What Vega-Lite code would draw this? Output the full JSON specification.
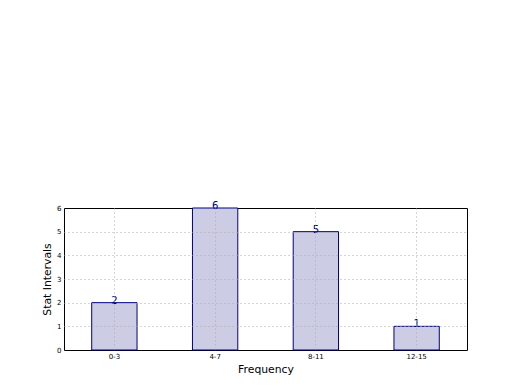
{
  "$schema": "https://vega.github.io/schema/vega-lite/v6.json",
  "width": 403,
  "height": 142,
  "autosize": {"type": "none"},
  "padding": {"left": 64, "top": 208, "right": 53, "bottom": 40},
  "background": "white",
  "config": {
    "font": "DejaVu Sans",
    "view": {"stroke": "black", "strokeWidth": 1}
  },
  "data": {
    "values": [
      {"interval": "0-3", "count": 2},
      {"interval": "4-7", "count": 6},
      {"interval": "8-11", "count": 5},
      {"interval": "12-15", "count": 1}
    ]
  },
  "encoding": {
    "x": {
      "field": "interval",
      "type": "nominal",
      "sort": null,
      "scale": {"paddingInner": 0.55, "paddingOuter": 0.275},
      "axis": {
        "title": "Frequency",
        "titleFontSize": 10.8,
        "titleFontWeight": "normal",
        "titleColor": "black",
        "titlePadding": 4,
        "labelAngle": 0,
        "labelFontSize": 7,
        "labelColor": "black",
        "labelPadding": 2,
        "grid": true,
        "gridDash": [1, 3],
        "gridColor": "#aaaaaa",
        "gridWidth": 1,
        "domain": false,
        "ticks": false,
        "zindex": 1
      }
    },
    "y": {
      "field": "count",
      "type": "quantitative",
      "scale": {"domain": [0, 6], "nice": false},
      "axis": {
        "title": "Stat Intervals",
        "titleFontSize": 10.8,
        "titleFontWeight": "normal",
        "titleColor": "black",
        "titlePadding": 4,
        "values": [0, 1, 2, 3, 4, 5, 6],
        "labelFontSize": 7,
        "labelColor": "black",
        "labelPadding": 3,
        "grid": true,
        "gridDash": [1, 3],
        "gridColor": "#aaaaaa",
        "gridWidth": 1,
        "gridOpacity": {"condition": {"test": "datum.value == 0 || datum.value == 6", "value": 0}, "value": 1},
        "domain": false,
        "ticks": false,
        "zindex": 1
      }
    }
  },
  "layer": [
    {
      "mark": {"type": "bar", "fill": "#ccccE5", "stroke": "#000080", "strokeWidth": 1}
    },
    {
      "mark": {"type": "text", "baseline": "bottom", "dy": 3, "fontSize": 10, "color": "#000080"},
      "encoding": {"text": {"field": "count", "type": "quantitative"}}
    }
  ]
}
